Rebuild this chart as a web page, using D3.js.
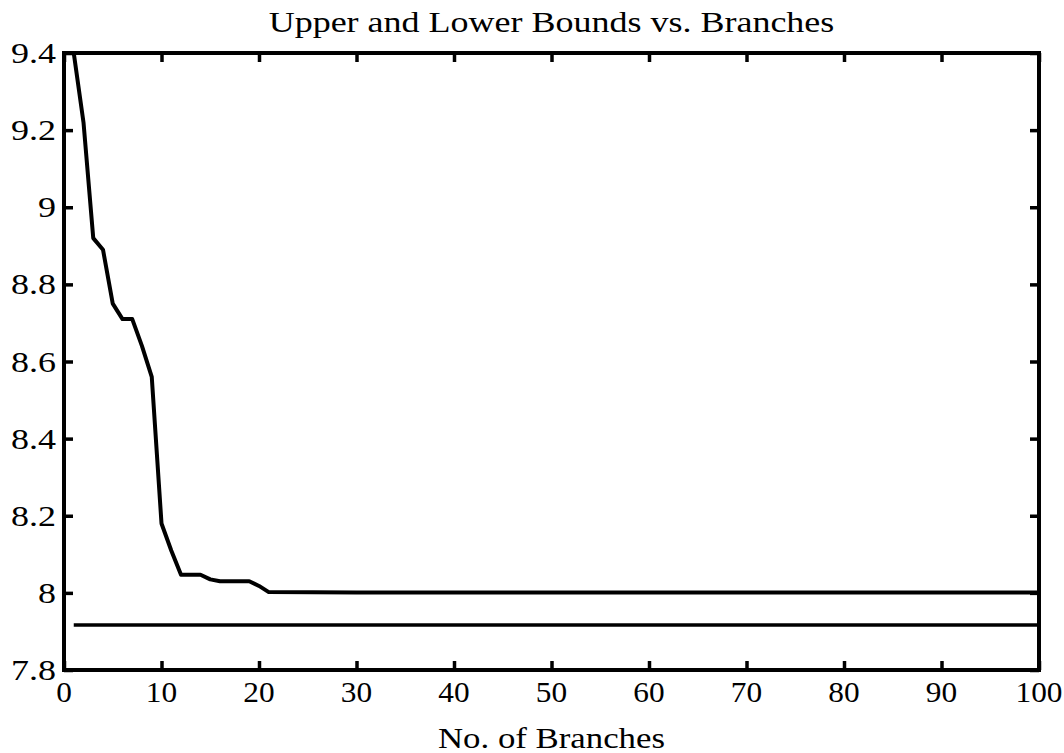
<!DOCTYPE html>
<html>
<head>
<meta charset="utf-8">
<script src="https://cdn.jsdelivr.net/npm/d3@7"></script>
<style>
  html, body { margin: 0; padding: 0; background: #fff; }
  svg { display: block; }
  text { font-family: "Liberation Serif", "Times New Roman", serif; fill: #000; }
</style>
</head>
<body>
<svg id="chart" width="1064" height="753"></svg>
<script>
// ---- data ----
const titleText = "Upper and Lower Bounds vs. Branches";
const xLabelText = "No. of Branches";
const xTicks = [0, 10, 20, 30, 40, 50, 60, 70, 80, 90, 100];
const yTicks = [7.8, 8, 8.2, 8.4, 8.6, 8.8, 9, 9.2, 9.4];
const yTickLabels = ["7.8", "8", "8.2", "8.4", "8.6", "8.8", "9", "9.2", "9.4"];

const upperBranches = [1, 2, 3, 4, 5, 6, 7, 8, 9, 10, 11, 12, 13, 14, 15, 16, 17, 18, 19, 20, 21, 30, 40, 50, 60, 70, 80, 90, 100];
const upperValues   = [9.40, 9.22, 8.92, 8.89, 8.75, 8.71, 8.71, 8.64, 8.56, 8.18, 8.11, 8.047, 8.047, 8.047, 8.035, 8.03, 8.03, 8.03, 8.03, 8.018, 8.002, 8.001, 8.001, 8.001, 8.001, 8.001, 8.001, 8.001, 8.001];

const lowerBranches = [1, 100];
const lowerValues   = [7.917, 7.917];

// ---- layout ----
const svg = d3.select("#chart");
const mLeft = 64, mRight = 1039, mTop = 53, mBottom = 670;
const x = d3.scaleLinear().domain([0, 100]).range([mLeft, mRight]);
const y = d3.scaleLinear().domain([7.8, 9.4]).range([mBottom, mTop]);
const tickLen = 9;

function stretchedText(g, tx, ty, str, size, anchor, sx) {
  return g.append("text")
    .attr("transform", `translate(${tx},${ty}) scale(${sx},1)`)
    .attr("text-anchor", anchor)
    .style("font-size", size + "px")
    .text(str);
}

// data lines (clipped to plot)
svg.append("clipPath").attr("id", "clip")
  .append("rect").attr("x", mLeft).attr("y", mTop).attr("width", mRight - mLeft).attr("height", mBottom - mTop);

const line = d3.line().x(d => x(d[0])).y(d => y(d[1]));
const plot = svg.append("g").attr("clip-path", "url(#clip)");

plot.append("path")
  .datum(upperBranches.map((b, i) => [b, upperValues[i]]))
  .attr("d", line)
  .attr("fill", "none").attr("stroke", "#000").attr("stroke-width", 4)
  .attr("stroke-linejoin", "round");

plot.append("path")
  .datum(lowerBranches.map((b, i) => [b, lowerValues[i]]))
  .attr("d", line)
  .attr("fill", "none").attr("stroke", "#000").attr("stroke-width", 3.5);

// axes with inward ticks
const axB = d3.axisBottom(x).tickValues(xTicks).tickSize(-tickLen).tickFormat("");
const axT = d3.axisTop(x).tickValues(xTicks).tickSize(-tickLen).tickFormat("");
const axL = d3.axisLeft(y).tickValues(yTicks).tickSize(-tickLen).tickFormat("");
const axR = d3.axisRight(y).tickValues(yTicks).tickSize(-tickLen).tickFormat("");

function styleAxis(g) {
  g.select(".domain").remove();
  g.selectAll(".tick line").attr("stroke", "#000").attr("stroke-width", 3.5);
}
svg.append("g").attr("transform", `translate(0,${mBottom})`).call(axB).call(styleAxis);
svg.append("g").attr("transform", `translate(0,${mTop})`).call(axT).call(styleAxis);
svg.append("g").attr("transform", `translate(${mLeft},0)`).call(axL).call(styleAxis);
svg.append("g").attr("transform", `translate(${mRight},0)`).call(axR).call(styleAxis);

// frame
svg.append("rect")
  .attr("x", mLeft).attr("y", mTop).attr("width", mRight - mLeft).attr("height", mBottom - mTop)
  .attr("fill", "none").attr("stroke", "#000").attr("stroke-width", 4);

// tick labels
const labels = svg.append("g");
xTicks.forEach(t => {
  stretchedText(labels, x(t), 702, String(t), 29, "middle", 1.08);
});
yTicks.forEach((t, i) => {
  stretchedText(labels, 56, y(t) + 10, yTickLabels[i], 30, "end", 1.2);
});

// title and axis label
stretchedText(svg, (mLeft + mRight) / 2, 32, titleText, 30, "middle", 1.2);
stretchedText(svg, (mLeft + mRight) / 2, 748, xLabelText, 29, "middle", 1.2);
</script>
</body>
</html>
